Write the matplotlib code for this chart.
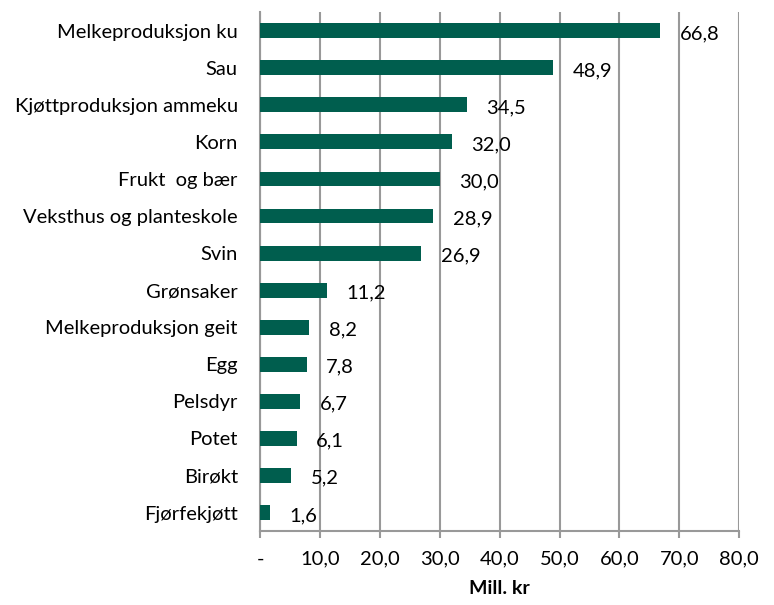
import matplotlib.pyplot as plt
import matplotlib as mpl

mpl.rcParams['font.family'] = ['Lato', 'DejaVu Sans']
plt.rcParams["font.size"] = 14.5

# data
categories = ["Melkeproduksjon ku", "Sau", "Kjøttproduksjon ammeku", "Korn",
              "Frukt  og bær", "Veksthus og planteskole", "Svin", "Grønsaker",
              "Melkeproduksjon geit", "Egg", "Pelsdyr", "Potet", "Birøkt", "Fjørfekjøtt"]
values = [66.8, 48.9, 34.5, 32.0, 30.0, 28.9, 26.9, 11.2, 8.2, 7.8, 6.7, 6.1, 5.2, 1.6]
xticks = [0, 10, 20, 30, 40, 50, 60, 70, 80]
xticklabels = ["-", "10,0", "20,0", "30,0", "40,0", "50,0", "60,0", "70,0", "80,0"]

fig = plt.figure(figsize=(7.74, 6.05), dpi=100)
ax = fig.add_axes([0.336, 0.122, 0.619, 0.858])

pos = list(range(len(categories)))
ax.barh(pos, values, height=0.4, color="#005E4E", zorder=3)
ax.set_ylim(len(categories) - 0.5, -0.5)
ax.set_xlim(0, 80)

for p, v in zip(pos, values):
    ax.annotate(f"{v:.1f}".replace(".", ","), xy=(v, p), xytext=(14, -2),
                textcoords="offset points", va="center", ha="left", fontsize=14.5,
                zorder=4)

ax.set_yticks(pos)
ax.set_yticklabels(categories)
ax.tick_params(axis="y", length=0, pad=16)
ax.set_xticks(xticks)
ax.set_xticklabels(xticklabels)
ax.tick_params(axis="x", length=5, width=1.5, color="#999999", pad=9)

ax.grid(axis="x", color="#999999", linewidth=1.5, zorder=0)
for s in ["top", "right"]:
    ax.spines[s].set_visible(False)
ax.spines["left"].set_color("#999999")
ax.spines["left"].set_linewidth(1.5)
ax.spines["bottom"].set_color("#999999")
ax.spines["bottom"].set_linewidth(1.5)

ax.set_xlabel("Mill. kr", fontweight="bold", fontsize=14, labelpad=9)

fig.savefig("out.png", dpi=100)
